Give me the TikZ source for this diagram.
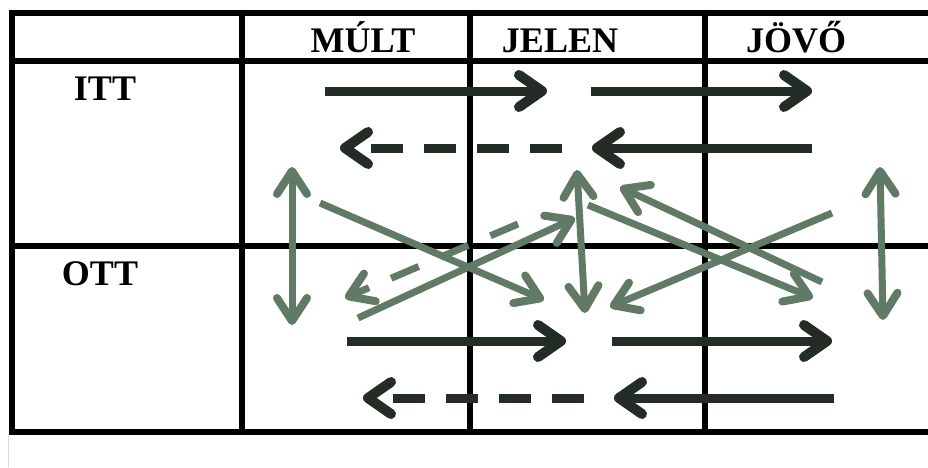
\documentclass[tikz,border=0pt]{standalone}
\usepackage{fontspec}
\setmainfont{Liberation Serif}
\usetikzlibrary{arrows.meta}
\definecolor{darkarr}{RGB}{35,45,38}
\definecolor{greenarr}{RGB}{96,122,101}
\begin{document}
\begin{tikzpicture}[x=1pt,y=-1pt,
  grid/.style={line width=6pt, draw=black},
  hdr/.style={font=\fontsize{36}{42}\selectfont\bfseries, anchor=base, inner sep=0pt},
  dtip/.tip={Straight Barb[length=23pt,width=32pt,line width=10pt,round]},
  gtip/.tip={Straight Barb[length=23pt,width=30pt,line width=8pt,round]},
  darkarrow/.style={draw=darkarr, line width=9pt, -{dtip}},
  darkdash/.style={darkarrow, dash pattern=on 32pt off 21pt},
  greenarrow/.style={draw=greenarr, line width=7pt, -{gtip}},
  greendouble/.style={draw=greenarr, line width=7pt, {gtip}-{gtip}},
  greendash/.style={greenarrow, dash pattern=on 30pt off 24pt}
]
\useasboundingbox (0,0) rectangle (928,467);
\fill[white] (0,0) rectangle (928,467);
% faint line below the table
\draw[gray!30, line width=1.5pt] (8.5,435) -- (8.5,467);
% table grid
\draw[grid] (9,12.5) -- (928,12.5);
\draw[grid] (9,60.5) -- (928,60.5);
\draw[grid] (9,246) -- (928,246);
\draw[grid] (9,432) -- (928,432);
\draw[grid] (12,9.5) -- (12,435);
\draw[grid] (241.5,9.5) -- (241.5,435);
\draw[grid] (469.5,9.5) -- (469.5,435);
\draw[grid] (704.5,9.5) -- (704.5,435);
% labels
\node[hdr] (mult)  at (363,52) {MÚLT};
\node[hdr] (jelen) at (560,52) {JELEN};
\node[hdr] (jovo)  at (796,52) {JÖVŐ};
\node[hdr] (itt)   at (105,100) {ITT};
\node[hdr] (ott)   at (100,285) {OTT};
% dark arrow end points
\coordinate (d1a) at (325,91);  \coordinate (d1b) at (547,91);
\coordinate (d2a) at (591,91);  \coordinate (d2b) at (812,91);
\coordinate (d3a) at (812,148); \coordinate (d3b) at (592,148);
\coordinate (d4a) at (562,148); \coordinate (d4b) at (340,148);
\coordinate (d5a) at (347,341); \coordinate (d5b) at (566,341);
\coordinate (d6a) at (612,341); \coordinate (d6b) at (832,341);
\coordinate (d7a) at (834,398); \coordinate (d7b) at (614,398);
\coordinate (d8a) at (584,398); \coordinate (d8b) at (363,398);
% green arrow end points
\coordinate (g1a) at (292,167); \coordinate (g1b) at (292,325);
\coordinate (g2a) at (577,170); \coordinate (g2b) at (585,313);
\coordinate (g3a) at (880,167); \coordinate (g3b) at (883,320);
\coordinate (g4a) at (320,203); \coordinate (g4b) at (544,300);
\coordinate (g5a) at (358,318); \coordinate (g5b) at (575,218);
\coordinate (g6a) at (518,224); \coordinate (g6b) at (345,298);
\coordinate (g7a) at (588,205); \coordinate (g7b) at (813,298);
\coordinate (g8a) at (822,282); \coordinate (g8b) at (620,187);
\coordinate (g9a) at (832,213); \coordinate (g9b) at (610,307);
% green arrows
\draw[greendouble] (g1a) -- (g1b);
\draw[greendouble] (g2a) -- (g2b);
\draw[greendouble] (g3a) -- (g3b);
\draw[greenarrow] (g4a) -- (g4b);
\draw[greenarrow] (g5a) -- (g5b);
\draw[greendash] (g6a) -- (g6b);
\draw[greenarrow] (g7a) -- (g7b);
\draw[greenarrow] (g8a) -- (g8b);
\draw[greenarrow] (g9a) -- (g9b);
% dark arrows
\draw[darkarrow] (d1a) -- (d1b);
\draw[darkarrow] (d2a) -- (d2b);
\draw[darkarrow] (d3a) -- (d3b);
\draw[darkdash] (d4a) -- (d4b);
\draw[darkarrow] (d5a) -- (d5b);
\draw[darkarrow] (d6a) -- (d6b);
\draw[darkarrow] (d7a) -- (d7b);
\draw[darkdash] (d8a) -- (d8b);
\end{tikzpicture}
\end{document}
